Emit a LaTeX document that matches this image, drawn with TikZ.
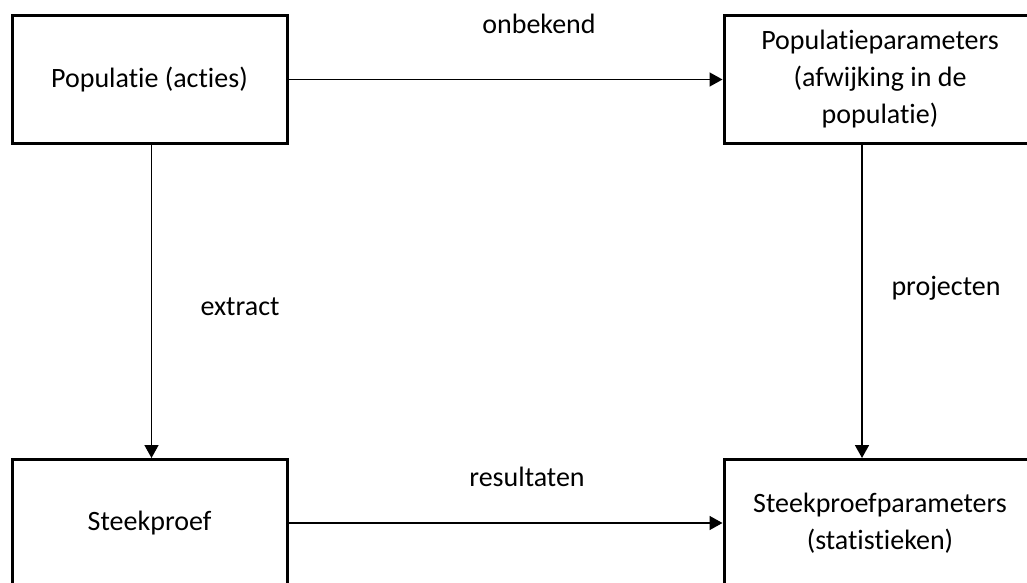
\documentclass[tikz,border=0pt]{standalone}
\usepackage{fontspec}
\setmainfont[Ligatures={NoCommon}]{Carlito}
\usetikzlibrary{arrows.meta}
\begin{document}
\begin{tikzpicture}[x=1pt,y=-1pt,
  box/.style={draw, line width=3pt, align=center, inner sep=0pt,
    font=\fontsize{28}{37}\selectfont},
  lbl/.style={font=\fontsize{28}{37}\selectfont, inner sep=0pt},
  arr/.style={line width=1.6pt, -{Triangle[length=13pt,width=14pt]}}]
  \useasboundingbox (0,0) rectangle (1027,583);
  \clip (0,0) rectangle (1027,583);
  % the four boxes
  \node[box, minimum width=275pt, minimum height=127pt] (pop) at (149.5,79.5) {Populatie (acties)};
  \node[box, minimum width=312pt, minimum height=127pt] (par) at (880,79.5)
    {Populatieparameters\\(afwijking in de\\populatie)};
  \node[box, minimum width=275pt, minimum height=127pt] (stk) at (149.5,523) {Steekproef};
  \node[box, minimum width=312pt, minimum height=127pt] (stp) at (880,523)
    {Steekproefparameters\\(statistieken)};
  % connectors
  \draw[arr] (pop.east) -- (par.west);
  \draw[arr] ([xshift=2pt]pop.south) -- ([xshift=2pt]stk.north);
  \draw[arr] ([xshift=-18pt]par.south) -- ([xshift=-18pt]stp.north);
  \draw[arr] (stk.east) -- (stp.west);
  % connector labels
  \node[lbl] (l1) at (539,24) {onbekend};
  \node[lbl] (l2) at (240,307) {extract};
  \node[lbl] (l3) at (946,288) {projecten};
  \node[lbl] (l4) at (527,477) {resultaten};
\end{tikzpicture}
\end{document}
